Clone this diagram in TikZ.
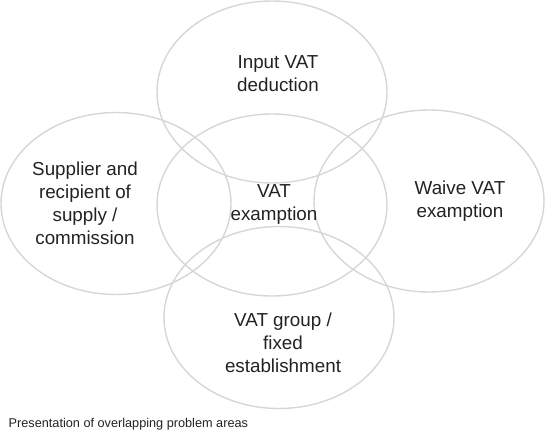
\documentclass[tikz,border=0pt]{standalone}
\usepackage{fontspec}
\setmainfont{Liberation Sans}
\usetikzlibrary{shapes.geometric}
\definecolor{ringgray}{HTML}{D6D6D6}
\definecolor{textdark}{HTML}{222222}

\begin{document}
\begin{tikzpicture}[
  x=1pt, y=1pt,
  ring/.style={ellipse, draw=ringgray, line width=1.4pt, inner sep=0pt,
               minimum width=230pt, minimum height=182pt},
  lbl/.style={align=center, text=textdark,
              font=\fontsize{18.8}{23}\selectfont},
  captxt/.style={text=textdark, font=\fontsize{12.7}{15}\selectfont, inner sep=0pt},
]
\useasboundingbox (0,0) rectangle (546,437);

% ── overlapping areas ──────────────────────────────────────────────────
\node[ring] (inputring)  at (272,345)   {};
\node[ring] (supplyring) at (116,233.5) {};
\node[ring] (exring)     at (272,232)   {};
\node[ring] (waivering)  at (429,236)   {};
\node[ring] (groupring)  at (279,119.5) {};

\node[lbl] (inputlbl)  at (278,363.5) {Input VAT\\deduction};
\node[lbl] (supplylbl) at (85,234)    {Supplier and\\recipient of\\supply /\\commission};
\node[lbl] (exlbl)     at (274,233)   {VAT\\examption};
\node[lbl] (waivelbl)  at (460,235.5) {Waive VAT\\examption};
\node[lbl] (grouplbl)  at (283,94)    {VAT group /\\fixed\\establishment};

\node[captxt, anchor=base west] (caption) at (8.5,10)
  {Presentation of overlapping problem areas};

\end{tikzpicture}
\end{document}
